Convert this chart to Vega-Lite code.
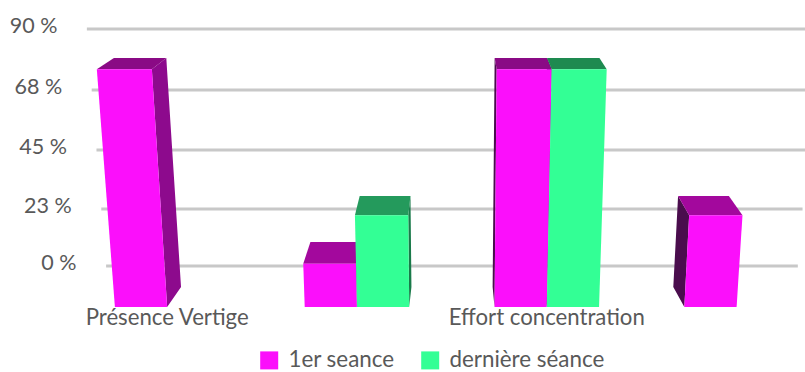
{
  "$schema": "https://vega.github.io/schema/vega-lite/v6.json",
  "width": 805,
  "height": 372,
  "padding": 0,
  "autosize": {"type": "none"},
  "background": "white",
  "config": {"view": {"stroke": null}, "text": {"font": "Lato"}},
  "data": {
    "values": [
      {"groupe": 1, "categorie": "Présence Vertige", "seance": "1er seance", "valeur": 79.3},
      {"groupe": 2, "categorie": "", "seance": "1er seance", "valeur": 9.5},
      {"groupe": 2, "categorie": "", "seance": "dernière séance", "valeur": 27.5},
      {"groupe": 3, "categorie": "Effort concentration", "seance": "1er seance", "valeur": 79.3},
      {"groupe": 3, "categorie": "Effort concentration", "seance": "dernière séance", "valeur": 79.3},
      {"groupe": 4, "categorie": "", "seance": "1er seance", "valeur": 27.5}
    ]
  },
  "transform": [
    {"calculate": "datum.groupe + (datum.seance === 'dernière séance' ? 0.2753 : 0)", "as": "g0"},
    {"calculate": "datum.g0 + 0.2753", "as": "g1"},
    {"calculate": "-9.2 + 1.064 * datum.valeur", "as": "hautFace"}
  ],
  "encoding": {
    "x": {"field": "xa", "type": "quantitative", "stack": null, "axis": null, "scale": {"domain": [0.5145, 4.5435], "nice": false, "zero": false}},
    "x2": {"field": "xb"},
    "y": {"field": "niveau", "type": "quantitative", "axis": null, "scale": {
      "domain": [-40.26, 0, 22.5, 45, 67.5, 90, 101.03],
      "range": [372, 266, 209, 150, 90, 29, 0],
      "nice": false,
      "zero": false
    }}
  },
  "layer": [
    {
      "data": {"name": "graduations", "values": [
        {"graduation": 0, "libelle": "0 %"},
        {"graduation": 22.5, "libelle": "23 %"},
        {"graduation": 45, "libelle": "45 %"},
        {"graduation": 67.5, "libelle": "68 %"},
        {"graduation": 90, "libelle": "90 %"}
      ]},
      "transform": [
        {"calculate": "datum.graduation", "as": "niveau"},
        {"calculate": "2.792 + (0.87 - 2.792) * (0.9087 + 0.000556 * datum.niveau)", "as": "xa"},
        {"calculate": "2.792 + (4.68 - 2.792) * (0.9087 + 0.000556 * datum.niveau)", "as": "xb"}
      ],
      "mark": {"type": "rule", "stroke": "#c8c8c8", "strokeWidth": 3}
    },
    {
      "data": {"name": "graduations"},
      "transform": [
        {"calculate": "datum.graduation", "as": "niveau"},
        {"calculate": "2.792 + (0.87 - 2.792) * (0.9087 + 0.000556 * datum.niveau)", "as": "xa"}
      ],
      "mark": {"type": "text", "align": "right", "baseline": "middle", "dx": -29.5, "dy": -2, "fontSize": 21.5, "fill": "#595959"},
      "encoding": {"x2": null, "text": {"field": "libelle"}}
    },
    {
      "transform": [
        {"calculate": "(datum.g0 + datum.g1) / 2 < 2.792 ? datum.g1 : datum.g0", "as": "arete"},
        {"calculate": "datum.seance + (datum.arete === datum.g1 ? ' droite' : ' gauche')", "as": "cote"},
        {"calculate": "[datum.valeur, datum.hautFace, -8, -15.6]", "as": "niveau"},
        {"calculate": "[1, 0, 0, 0]", "as": "dIn"},
        {"calculate": "[1, 1, 1, 0]", "as": "dOut"},
        {"flatten": ["niveau", "dIn", "dOut"]},
        {"calculate": "2.792 + (datum.arete - 2.792) * (0.9587 + 0.000556 * datum.niveau - 0.05 * datum.dIn)", "as": "xa"},
        {"calculate": "2.792 + (datum.arete - 2.792) * (0.9587 + 0.000556 * datum.niveau - 0.05 * datum.dOut)", "as": "xb"}
      ],
      "mark": {"type": "area", "orient": "horizontal", "interpolate": "linear"},
      "encoding": {
        "detail": {"field": "g0"},
        "color": {"field": "cote", "type": "nominal", "legend": null, "scale": {
          "domain": ["1er seance droite", "1er seance gauche", "dernière séance droite", "dernière séance gauche"],
          "range": ["#8d0a8d", "#4a0d4d", "#1a7a4a", "#0e5a38"]
        }}
      }
    },
    {
      "transform": [
        {"calculate": "datum.seance + (datum.valeur < 50 ? ' bas' : ' haut')", "as": "sommet"},
        {"calculate": "[datum.valeur, datum.hautFace]", "as": "niveau"},
        {"calculate": "[1, 0]", "as": "prof"},
        {"flatten": ["niveau", "prof"]},
        {"calculate": "2.792 + (datum.g0 - 2.792) * (0.9587 + 0.000556 * datum.niveau - 0.05 * datum.prof)", "as": "xa"},
        {"calculate": "2.792 + (datum.g1 - 2.792) * (0.9587 + 0.000556 * datum.niveau - 0.05 * datum.prof)", "as": "xb"}
      ],
      "mark": {"type": "area", "orient": "horizontal", "interpolate": "linear"},
      "encoding": {
        "detail": {"field": "g0"},
        "color": {"field": "sommet", "type": "nominal", "legend": null, "scale": {
          "domain": ["1er seance haut", "1er seance bas", "dernière séance haut", "dernière séance bas"],
          "range": ["#8a0a85", "#a3089d", "#1e8a50", "#249a5c"]
        }}
      }
    },
    {
      "transform": [
        {"calculate": "[datum.hautFace, -15.6]", "as": "niveau"},
        {"flatten": ["niveau"]},
        {"calculate": "2.792 + (datum.g0 - 2.792) * (0.9587 + 0.000556 * datum.niveau)", "as": "xa"},
        {"calculate": "2.792 + (datum.g1 - 2.792) * (0.9587 + 0.000556 * datum.niveau)", "as": "xb"}
      ],
      "mark": {"type": "area", "orient": "horizontal", "interpolate": "linear"},
      "encoding": {
        "detail": {"field": "g0"},
        "color": {"field": "seance", "type": "nominal", "scale": {
          "domain": ["1er seance", "dernière séance"],
          "range": ["#fb0ffb", "#33ff95"]
        }, "legend": {
          "title": null,
          "orient": "none",
          "legendX": 258,
          "legendY": 349,
          "direction": "horizontal",
          "columns": 2,
          "columnPadding": 24,
          "symbolType": "square",
          "symbolSize": 324,
          "symbolStrokeWidth": 0,
          "symbolOpacity": 1,
          "labelFont": "Lato",
          "labelFontSize": 22.4,
          "labelColor": "#595959",
          "labelOffset": 8,
          "labelLimit": 300
        }}
      }
    },
    {
      "transform": [
        {"filter": "datum.categorie !== '' && datum.seance === '1er seance'"},
        {"calculate": "-19.8", "as": "niveau"},
        {"calculate": "2.792 + (datum.g1 - 2.792) * 0.95", "as": "xa"}
      ],
      "mark": {"type": "text", "align": "center", "baseline": "middle", "fontSize": 22.2, "fill": "#595959"},
      "encoding": {"x2": null, "text": {"field": "categorie"}}
    }
  ],
  "resolve": {"scale": {"color": "independent"}}
}
